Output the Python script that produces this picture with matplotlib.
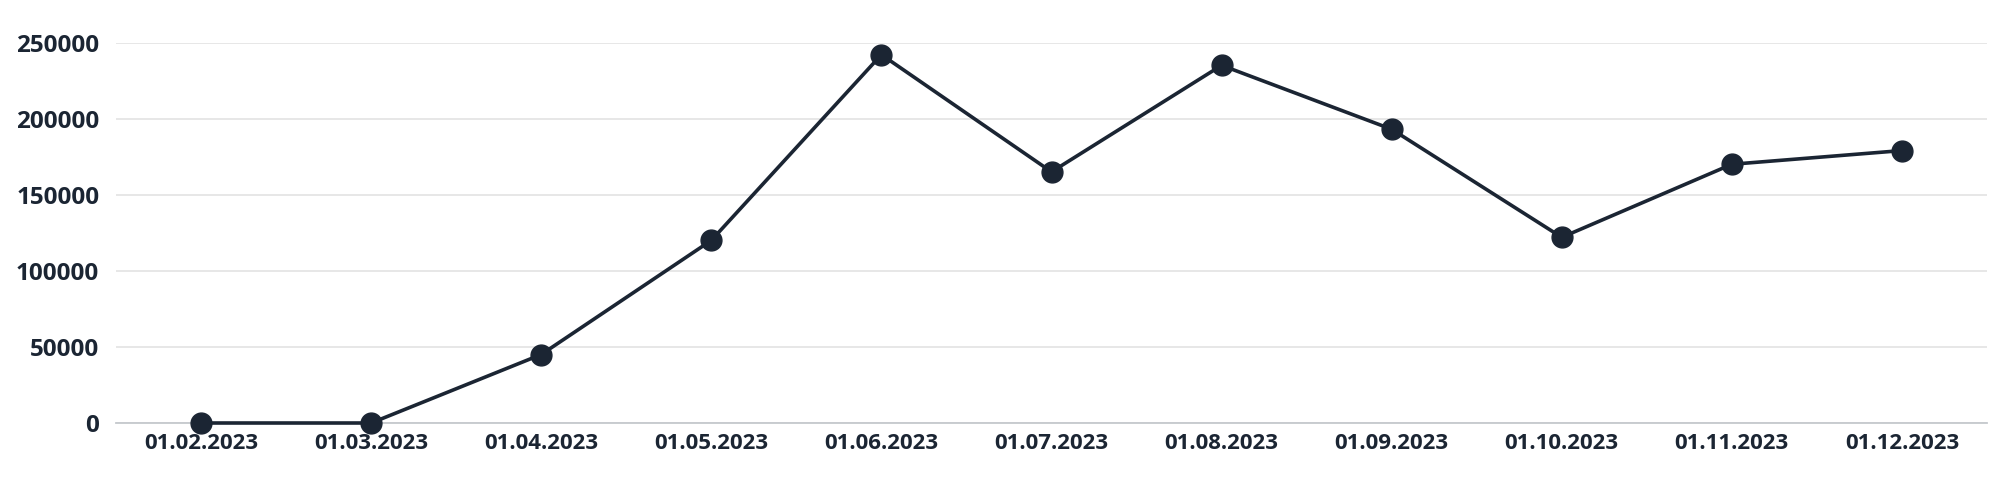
import matplotlib
matplotlib.use('Agg')
import matplotlib.pyplot as plt

# Datos del gráfico
fechas = ['01.02.2023', '01.03.2023', '01.04.2023', '01.05.2023', '01.06.2023',
          '01.07.2023', '01.08.2023', '01.09.2023', '01.10.2023', '01.11.2023',
          '01.12.2023']
valores = [0, 0, 45000, 120000, 242000, 165000, 235000, 193000, 122000, 170000, 179000]
ticks_y = [0, 50000, 100000, 150000, 200000, 250000]

color_linea = '#1b2533'

plt.rcParams['font.family'] = ['Open Sans', 'DejaVu Sans']

fig = plt.figure(figsize=(20, 4.8), dpi=100)
ax = fig.add_axes([0.058, 0.11875, 0.9355, 0.7927])

x = list(range(len(fechas)))
ax.plot(x, valores, color=color_linea, linewidth=2.6, marker='o',
        markersize=15, clip_on=False, zorder=3)

ax.set_xlim(-0.5, len(fechas) - 0.5)
ax.set_ylim(0, 250000)
ax.set_xticks(x)
ax.set_xticklabels(fechas, fontweight='bold', fontsize=16, color=color_linea)
ax.set_yticks(ticks_y)
ax.set_yticklabels([str(v) for v in ticks_y], fontweight='bold', fontsize=17.5,
                   color=color_linea)

ax.tick_params(axis='both', length=0)
ax.tick_params(axis='y', pad=12)
ax.tick_params(axis='x', pad=7)

ax.grid(axis='y', color='#e3e3e3', linewidth=1.2, zorder=0)
ax.set_axisbelow(True)
for lado in ['top', 'right', 'left']:
    ax.spines[lado].set_visible(False)
ax.spines['bottom'].set_color('#c5c9cd')
ax.spines['bottom'].set_linewidth(1.3)

fig.savefig('out.png', dpi=100)
